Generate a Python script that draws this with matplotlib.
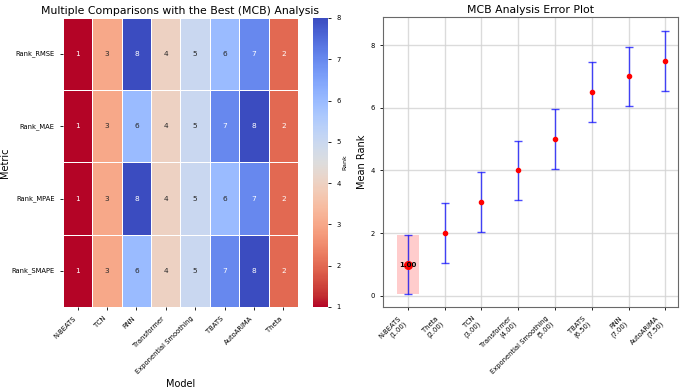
import numpy as np
import pandas as pd
import seaborn as sns
import matplotlib
matplotlib.use("Agg")
from matplotlib import pyplot as plt
from matplotlib.patches import Rectangle

# ---------data---------
models = ["N-BEATS", "TCN", "RNN", "Transformer", "Exponential Smoothing", "TBATS", "AutoARIMA", "Theta"]
metrics = ["Rank_RMSE", "Rank_MAE", "Rank_MPAE", "Rank_SMAPE"]
rank_rmse = [1, 3, 8, 4, 5, 6, 7, 2]
rank_mae = [1, 3, 6, 4, 5, 7, 8, 2]
rank_mpae = [1, 3, 8, 4, 5, 6, 7, 2]
rank_smape = [1, 3, 6, 4, 5, 7, 8, 2]

sorted_models = ["N-BEATS", "Theta", "TCN", "Transformer", "Exponential Smoothing", "TBATS", "RNN", "AutoARIMA"]
mean_rank = [1.00, 2.00, 3.00, 4.00, 5.00, 6.50, 7.00, 7.50]
err = 0.95

# ---------figure---------
fig = plt.figure(figsize=(6.85, 3.91), dpi=100)
ax1 = fig.add_axes([0.092, 0.215, 0.343, 0.739])
cax = fig.add_axes([0.457, 0.215, 0.022, 0.739])
ax2 = fig.add_axes([0.559, 0.215, 0.431, 0.742])

# heatmap
df = pd.DataFrame([rank_rmse, rank_mae, rank_mpae, rank_smape], index=metrics, columns=models)
sns.heatmap(df, ax=ax1, cbar_ax=cax, cmap="coolwarm_r", vmin=1, vmax=8, annot=True, fmt="d",
            annot_kws={"fontsize": 5.3}, linewidths=0.5, linecolor="white",
            cbar_kws={"label": "Rank"})
ax1.set_title("Multiple Comparisons with the Best (MCB) Analysis", fontsize=7.8, pad=3)
ax1.set_xlabel("Model", fontsize=7)
ax1.set_ylabel("Metric", fontsize=7)
ax1.yaxis.set_label_coords(-0.225, 0.5)
ax1.xaxis.set_label_coords(0.5, -0.25)
ax1.set_xticklabels(models, rotation=45, ha="right", fontsize=4.9)
ax1.set_yticklabels(metrics, rotation=0, fontsize=4.9)
ax1.tick_params(length=2.5, width=0.6)
cax.tick_params(labelsize=4.9, length=2.5, width=0.6)
cax.yaxis.label.set_size(4.5)
cax.yaxis.labelpad = 1

# error plot
x = np.arange(len(sorted_models))
ax2.errorbar(x, mean_rank, yerr=err, fmt="none", ecolor="blue", alpha=0.7, capsize=2.8, elinewidth=1, capthick=1)
ax2.plot(x, mean_rank, "o", color="red", markersize=3, zorder=3)
ax2.plot(x[0], mean_rank[0], "o", color="red", markersize=5.5, zorder=4)
ax2.add_patch(Rectangle((x[0] - 0.3, mean_rank[0] - err), 0.6, 2 * err, color="red", alpha=0.2, lw=0))
ax2.text(x[0], mean_rank[0], f"{mean_rank[0]:.2f}", ha="center", va="center", fontsize=5, fontweight="bold", zorder=5)
ax2.set_xticks(x)
ax2.set_xticklabels([f"{m}\n({r:.2f})" for m, r in zip(sorted_models, mean_rank)], rotation=45, ha="right", fontsize=4.9)
ax2.set_yticks([0, 2, 4, 6, 8])
ax2.tick_params(labelsize=4.9, length=2.5, width=0.6)
ax2.set_xlim(-0.68, 7.35)
ax2.set_ylim(-0.35, 8.9)
ax2.grid(True, color="lightgray", alpha=0.8, linewidth=1)
ax2.set_axisbelow(True)
ax2.set_title("MCB Analysis Error Plot", fontsize=7.8, pad=3)
ax2.set_ylabel("Mean Rank", fontsize=7)
ax2.yaxis.set_label_coords(-0.055, 0.5)
for s in ax2.spines.values():
    s.set_color("dimgray")

plt.savefig("out.png", dpi=100)
